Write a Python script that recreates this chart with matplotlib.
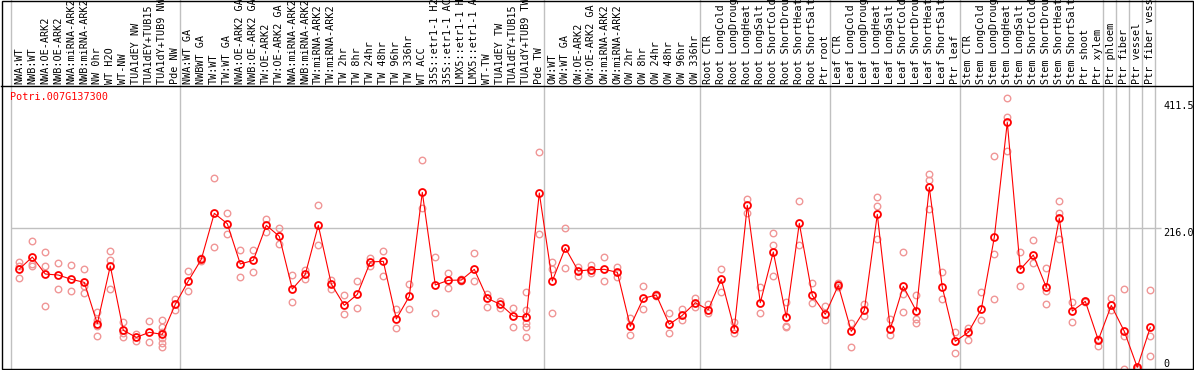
import matplotlib
matplotlib.use("Agg")
import matplotlib.pyplot as plt
from matplotlib.patches import Rectangle
import matplotlib.transforms as mtransforms

W, H = 1194, 370

title = "Potri.007G137300"

labels = [
    "NWA:WT", "NWB:WT", "NWA:OE-ARK2", "NWB:OE-ARK2", "NWA:miRNA-ARK2", "NWB:miRNA-ARK2",
    "NW 0hr", "WT H2O", "WT-NW", "TUA1dEY NW", "TUA1dEY+TUB15", "TUA1dY+TUB9 NW", "Pde NW",
    "NWA:WT GA", "NWBWT GA", "TW:WT", "TW:WT GA", "NWA:OE-ARK2 GA", "NWB:OE-ARK2 GA",
    "TW:OE-ARK2", "TW:OE-ARK2 GA", "NWA:miRNA-ARK2", "NWB:miRNA-ARK2", "TW:miRNA-ARK2",
    "TW:miRNA-ARK2", "TW 2hr", "TW 8hr", "TW 24hr", "TW 48hr", "TW 96hr", "TW 336hr",
    "WT ACC", "35S::etr1-1 H2", "35S::etr1-1 AC", "LMX5::etr1-1 H", "LMX5::etr1-1 A",
    "WT-TW", "TUA1dEY TW", "TUA1dEY+TUB15", "TUA1dY+TUB9 TW", "Pde TW",
    "OW:WT", "OW:WT GA", "OW:OE-ARK2", "OW:OE-ARK2 GA", "OW:miRNA-ARK2", "OW:miRNA-ARK2",
    "OW 2hr", "OW 8hr", "OW 24hr", "OW 48hr", "OW 96hr", "OW 336hr",
    "Root CTR", "Root LongCold", "Root LongDroug", "Root LongHeat", "Root LongSalt",
    "Root ShortCold", "Root ShortDrou", "Root ShortHeat", "Root ShortSalt", "Ptr root",
    "Leaf CTR", "Leaf LongCold", "Leaf LongDroug", "Leaf LongHeat", "Leaf LongSalt",
    "Leaf ShortCold", "Leaf ShortDrou", "Leaf ShortHeat", "Leaf ShortSalt", "Ptr leaf",
    "Stem CTR", "Stem LongCold", "Stem LongDroug", "Stem LongHeat", "Stem LongSalt",
    "Stem ShortCold", "Stem ShortDrou", "Stem ShortHeat", "Stem ShortSalt",
    "Ptr shoot", "Ptr xylem", "Ptr phloem", "Ptr fiber", "Ptr vessel", "Ptr fiber vess",
]

means = [
    153.5, 171.9, 145.8, 144.3, 137.7, 133.0, 69.6, 158.1, 59.4, 48.6, 56.3, 53.2, 99.3,
    135.1, 168.4, 239.0, 223.1, 161.2, 166.8, 220.6, 203.7, 122.8, 145.3, 220.6, 130.5,
    97.7, 114.6, 164.3, 165.3, 76.8, 111.6, 271.2, 129.0, 136.1, 136.6, 153.0, 108.5,
    99.3, 81.4, 79.8, 270.2,
    135.1, 185.8, 150.4, 152.5, 153.0, 148.4, 65.5, 108.5, 113.6, 68.6, 82.4, 101.8,
    91.1, 137.7, 61.4, 251.3, 101.8, 179.6, 79.3, 223.6, 113.1, 83.9,
    128.4, 57.8, 90.1, 237.4, 61.4, 126.9, 89.0, 278.9, 125.4, 42.5,
    56.3, 91.6, 202.1, 378.7, 153.0, 175.0, 125.4, 231.3, 89.0,
    103.9, 44.5, 97.7, 57.8, 2.6, 64.0,
]

replicates = [
    [163.8, 158.6, 139.2], [196.0, 161.7, 158.6], [179.1, 158.6, 96.2], [162.2, 123.3],
    [159.1, 119.2], [154.0, 127.9, 116.2], [87.0, 75.2, 66.5, 50.1], [180.6, 167.3, 122.3],
    [71.6, 54.8, 49.6], [53.2, 43.5], [73.2, 40.9], [75.2, 65.0, 57.3, 47.1, 39.4, 34.3],
    [107.5, 91.1],
    [149.9, 119.2], [166.0, 170.5], [292.7, 186.8], [239.0, 206.7], [182.7, 140.7],
    [182.2, 149.4], [230.3, 210.8], [215.9, 192.4], [143.8, 102.9], [152.0, 138.2],
    [251.3, 189.9], [136.6, 122.8], [113.1, 83.9], [134.6, 93.1], [170.9, 158.1],
    [180.6, 142.3], [91.6, 62.4], [130.5, 92.6], [320.9, 247.2], [171.9, 86.0],
    [147.4, 123.8], [138.2, 134.6], [177.6, 134.6], [115.6, 95.7], [103.9, 93.1],
    [93.1, 65.0], [118.2, 90.6, 71.1, 65.0, 49.6], [333.1, 206.7],
    [164.8, 153.5, 85.5], [215.9, 154.5], [157.1, 143.3], [159.1, 147.9], [171.9, 134.6],
    [156.6, 141.7], [77.8, 52.7], [126.9, 91.6], [115.6, 111.6], [85.5, 54.8],
    [91.6, 75.7], [108.5, 95.2],
    [99.8, 86.5], [153.0, 118.7], [72.7, 54.8], [261.0, 239.0], [125.4, 85.5],
    [208.3, 189.9, 142.3], [102.9, 66.5, 65.0], [257.4, 189.9], [131.5, 101.3], [96.2, 74.7],
    [132.5, 126.4], [70.6, 33.3], [99.8, 81.9], [263.5, 249.7, 199.1], [76.2, 52.7],
    [179.1, 115.6, 87.0], [113.1, 76.2, 70.6], [298.8, 289.6, 246.1], [148.4, 108.0],
    [56.3, 25.1],
    [63.5, 45.0], [117.7, 74.7], [326.5, 176.0, 106.9], [415.5, 386.9, 334.7],
    [179.1, 127.9], [197.5, 163.2], [154.5, 119.2, 99.3], [257.4, 240.0, 199.1],
    [102.3, 71.6],
    [104.9, 102.3], [46.6, 35.8], [108.5, 91.1], [122.3, 50.7, 0.5], [0.5, 1.5],
    [121.3, 50.1, 19.4],
]

group_starts = [0, 13, 41, 53, 63, 73, 84, 85, 86, 87, 88]
ytick_vals = [0, 216.0, 411.5]
grid_val = 216.0

RED = "#FF0000"
PALE = "#F09696"
GRAY = "#C0C0C0"
FONT = "DejaVu Sans Mono"
FS = 7.3

fig = plt.figure(figsize=(W / 100, H / 100), dpi=100)
fig.patch.set_facecolor("white")

# axes occupies px x 1..1193, y 86..369 (from top)
ax = fig.add_axes([1 / W, (H - 369) / H, 1192 / W, 283 / H])
ax.set_facecolor("none")

x0_px, step_px = 19.3, 13.0
ax.set_xlim((1 - x0_px) / step_px, (1193 - x0_px) / step_px)
ax.set_ylim(0, 434.5)

xs = list(range(len(labels)))

# group separators (span full figure height)
for s in group_starts:
    ax.axvline(s - 0.62, ymin=0, ymax=369 / 283, color=GRAY, lw=1.0, clip_on=False, zorder=1)
ax.hlines(grid_val, group_starts[0] - 0.62, group_starts[-1] - 0.2, color=GRAY, lw=1.0, zorder=1)

# replicates
rx, ry = [], []
for i, r in enumerate(replicates):
    for v in r:
        rx.append(i)
        ry.append(v)
ax.plot(rx, ry, linestyle="none", marker="o", ms=4.7, mfc="none", mec=PALE, mew=1.0,
        zorder=2, clip_on=False)

# mean line
ax.plot(xs, means, color=RED, lw=0.8, zorder=3, clip_on=False)
ax.plot(xs, means, linestyle="none", marker="o", ms=5.0, mfc="none", mec=RED, mew=1.3,
        zorder=4, clip_on=False)

for sp in ["left", "right", "bottom"]:
    ax.spines[sp].set_visible(False)
ax.spines["top"].set_color("black")
ax.spines["top"].set_linewidth(1.0)
ax.set_xticks([])
ax.set_yticks([])

# category labels above the plot
blend = mtransforms.blended_transform_factory(ax.transData, ax.transAxes)
for i, lab in enumerate(labels):
    ax.text(i, (369 - 84) / 283, lab, rotation=90, ha="center", va="bottom",
            fontsize=FS, family=FONT, color="black", transform=blend, clip_on=False)

# y value labels at right
blend_y = mtransforms.blended_transform_factory(ax.transAxes, ax.transData)
xlab = (1163 - 1) / 1192
for v in ytick_vals:
    txt = "0" if v == 0 else f"{v:.1f}"
    ax.text(xlab, v, txt, ha="left", va="bottom" if v == 0 else "top",
            fontsize=FS, family=FONT, color="black", transform=blend_y)

ax.text(9 / 1192, (369 - 97) / 283, title, ha="left", va="center", fontsize=FS,
        family=FONT, color=RED, transform=ax.transAxes)

# outer border
fig.patches.append(Rectangle((1.5 / W, (H - 369) / H), (1192 - 0.5) / W, (368.5) / H,
                             transform=fig.transFigure, fill=False, ec="black", lw=1.0,
                             zorder=10))

fig.savefig("out.png", dpi=100, facecolor="white")
